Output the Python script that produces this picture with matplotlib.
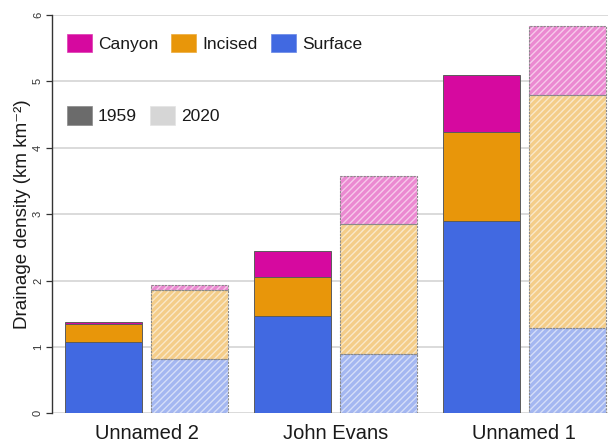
import numpy as np
import matplotlib
matplotlib.use("Agg")
import matplotlib.pyplot as plt
from matplotlib.patches import Patch
from matplotlib.colors import to_rgb

plt.rcParams['font.family'] = ['Liberation Sans', 'DejaVu Sans']
plt.rcParams['hatch.linewidth'] = 1.0

# catchments and drainage density per channel type (km km-2)
catchments = ["Unnamed 2", "John Evans", "Unnamed 1"]
channel_types = ["Surface", "Incised", "Canyon"]

surface_1959 = [1.07, 1.47, 2.89]
incised_1959 = [0.28, 0.58, 1.34]
canyon_1959 = [0.025, 0.39, 0.87]

surface_2020 = [0.82, 0.89, 1.29]
incised_2020 = [1.04, 1.96, 3.50]
canyon_2020 = [0.08, 0.72, 1.04]

years = ["1959", "2020"]

colours = {"Canyon": "#D6099F", "Incised": "#E8960A", "Surface": "#4169E1"}


def tint(c, amount):
    # mix a colour towards white; amount = share of the original colour
    r = np.array(to_rgb(c))
    return tuple(r * amount + (1 - amount))


fig = plt.figure(figsize=(6.08, 4.44), dpi=100)
ax = fig.add_axes([52 / 608, 1 - 413.3 / 444, 556 / 608, 398.3 / 444])

x = np.arange(len(catchments))
offset = 0.228
width = 0.408

data_1959 = {"Surface": surface_1959, "Incised": incised_1959, "Canyon": canyon_1959}
data_2020 = {"Surface": surface_2020, "Incised": incised_2020, "Canyon": canyon_2020}

bottom = np.zeros(len(x))
for name in channel_types:
    vals = np.array(data_1959[name])
    ax.bar(x - offset, vals, width, bottom=bottom, color=colours[name],
           edgecolor="#5c5c5c", linewidth=0.7, zorder=3)
    bottom += vals

# 2020 bars: pale fill, fine light diagonal hatching, dotted outline
bottom = np.zeros(len(x))
for name in channel_types:
    vals = np.array(data_2020[name])
    ax.bar(x + offset, vals, width, bottom=bottom, color=tint(colours[name], 0.48),
           edgecolor="none", linewidth=0, zorder=3)
    ax.bar(x + offset, vals, width, bottom=bottom, facecolor="none",
           edgecolor=tint(colours[name], 0.22), hatch="/////", linewidth=0, zorder=4)
    ax.bar(x + offset, vals, width, bottom=bottom, fill=False,
           edgecolor="#8a8a8a", linewidth=0.8, linestyle=(0, (2, 1)), zorder=5)
    bottom += vals

ax.set_xlim(-0.503, 2.443)
ax.set_ylim(0, 6)
ax.set_xticks(x)
ax.set_xticklabels(catchments, fontsize=14.5, color="#1a1a1a")
ax.tick_params(axis="x", length=0, pad=8)
ax.set_yticks(range(7))
ax.tick_params(axis="y", length=4, width=0.9, labelsize=8, labelcolor="#333333",
               pad=2.5, color="#333333")
for lab in ax.get_yticklabels():
    lab.set_rotation(90)
    lab.set_va("center")

for s in ["top", "right", "bottom"]:
    ax.spines[s].set_visible(False)
ax.spines["left"].set_bounds(0, 6)
ax.spines["left"].set_color("#333333")
ax.spines["left"].set_linewidth(1.0)

ax.yaxis.grid(True, color="#d4d4d4", linewidth=1.2, zorder=0)
ax.set_axisbelow(True)

ax.set_ylabel("Drainage density (km km\u207b\u00b2)", fontsize=13.5, color="#1a1a1a")
ax.yaxis.set_label_coords(-0.038, 0.5)

type_handles = [Patch(facecolor=colours[n], edgecolor=tint(colours[n], 0.8), linewidth=0.5)
                for n in ["Canyon", "Incised", "Surface"]]
leg1 = ax.legend(type_handles, ["Canyon", "Incised", "Surface"], loc="center left",
                 bbox_to_anchor=(0.027, 0.93), ncol=3, frameon=False, fontsize=12.5,
                 handlelength=1.44, handleheight=1.27, handletextpad=0.35,
                 columnspacing=0.75, borderpad=0, borderaxespad=0)
for t in leg1.get_texts():
    t.set_color("#1a1a1a")
ax.add_artist(leg1)

year_handles = [Patch(facecolor="#6b6b6b", edgecolor="#8a8a8a", linewidth=0.5),
                Patch(facecolor="#d6d6d6", edgecolor="#e4e4e4", linewidth=0.5)]
leg2 = ax.legend(year_handles, years, loc="center left",
                 bbox_to_anchor=(0.027, 0.748), ncol=2, frameon=False, fontsize=12.5,
                 handlelength=1.44, handleheight=1.27, handletextpad=0.35,
                 columnspacing=0.75, borderpad=0, borderaxespad=0)
for t in leg2.get_texts():
    t.set_color("#1a1a1a")

fig.savefig("out.png", dpi=100, facecolor="white")
